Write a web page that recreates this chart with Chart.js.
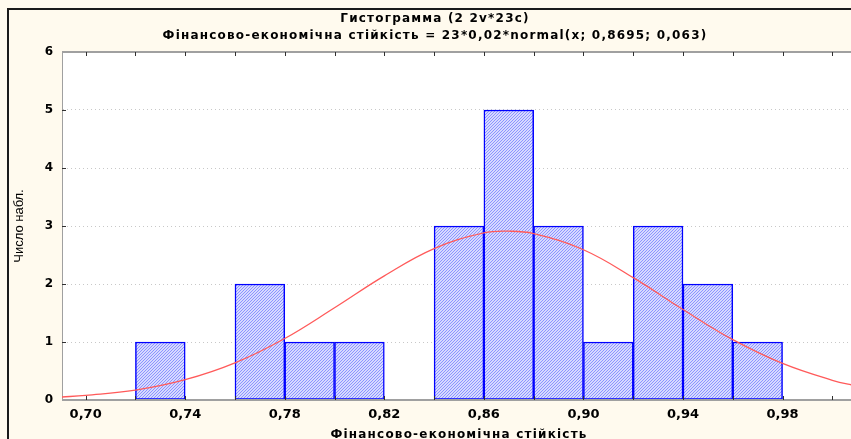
<!DOCTYPE html>
<html>
<head>
<meta charset="utf-8">
<script src="https://cdn.jsdelivr.net/npm/chart.js@4.4.1/dist/chart.umd.min.js"></script>
<style>
    html, body { margin: 0; padding: 0; background: #fffaee; }
    #wrap { width: 851px; height: 439px; position: relative; }
</style>
</head>
<body>
<div id="wrap"><canvas id="histChart" width="851" height="439"></canvas></div>
<script>
// ===============================
//  DATA
// ===============================
const binCenters = [0.73, 0.75, 0.77, 0.79, 0.81, 0.83, 0.85, 0.87, 0.89, 0.91, 0.93, 0.95, 0.97];
const binCounts  = [1, 0, 2, 1, 1, 0, 3, 5, 3, 1, 3, 2, 1];

// normal curve
const curveX = [0.69, 0.70, 0.72, 0.74, 0.76, 0.78, 0.80, 0.82, 0.84, 0.86, 0.87, 0.88, 0.90, 0.92, 0.94, 0.96, 0.98, 1.00, 1.01];
const curveY = [0.05, 0.08, 0.17, 0.35, 0.64, 1.06, 1.59, 2.14, 2.61, 2.88, 2.91, 2.87, 2.59, 2.11, 1.56, 1.04, 0.63, 0.34, 0.24];

const xTickLabels = [0.70, 0.74, 0.78, 0.82, 0.86, 0.90, 0.94, 0.98];
const xTickMarks = [0.70, 0.72, 0.74, 0.76, 0.78, 0.80, 0.82, 0.84, 0.86, 0.88, 0.90, 0.92, 0.94, 0.96, 0.98, 1.00];

const titleText = "Гистограмма (2 2v*23c)";
const subtitleText = "Фінансово-економічна стійкість = 23*0,02*normal(x; 0,8695; 0,063)";
const xTitle = "Фінансово-економічна стійкість";
const yTitle = "Число набл.";

// ===============================
//  HATCH PATTERN
// ===============================
function makeHatch() {
    const c = document.createElement("canvas");
    c.width = 3;
    c.height = 3;
    const g = c.getContext("2d");
    g.fillStyle = "#d6d9ff";
    g.fillRect(0, 0, 3, 3);
    g.strokeStyle = "#8c93ff";
    g.lineWidth = 1;
    g.beginPath();
    g.moveTo(-1, 4); g.lineTo(4, -1);
    g.moveTo(-1, 1); g.lineTo(1, -1);
    g.moveTo(2, 4); g.lineTo(4, 2);
    g.stroke();
    return g.createPattern(c, "repeat");
}

// ===============================
//  FRAME / TITLES / TICKS PLUGIN
// ===============================
const framePlugin = {
    id: "frame",
    beforeDraw(chart) {
        const ctx = chart.ctx;
        const a = chart.chartArea;
        ctx.save();
        ctx.fillStyle = "#fffaee";
        ctx.fillRect(0, 0, chart.width, chart.height);
        ctx.fillStyle = "#ffffff";
        ctx.fillRect(a.left, a.top, a.right - a.left, a.bottom - a.top);
        // outer frame
        ctx.strokeStyle = "#1a1a1a";
        ctx.lineWidth = 2;
        ctx.beginPath();
        ctx.moveTo(8, chart.height);
        ctx.lineTo(8, 9);
        ctx.lineTo(chart.width, 9);
        ctx.stroke();
        // titles
        ctx.fillStyle = "#000";
        ctx.textAlign = "center";
        ctx.textBaseline = "middle";
        ctx.font = "bold 12px 'DejaVu Sans'";
        ctx.letterSpacing = "1.2px";
        ctx.fillText(titleText, 435, 19);
        ctx.fillText(subtitleText, 435, 36);
        ctx.fillText(xTitle, 459, 435);
        ctx.restore();
    },
    afterDatasetsDraw(chart) {
        const ctx = chart.ctx;
        const a = chart.chartArea;
        const x = chart.scales.x;
        const y = chart.scales.y;
        ctx.save();
        // top and bottom borders
        ctx.strokeStyle = "#a0a0a0";
        ctx.lineWidth = 2;
        ctx.beginPath();
        ctx.moveTo(a.left, a.top);
        ctx.lineTo(a.right, a.top);
        ctx.moveTo(a.left, a.bottom);
        ctx.lineTo(a.right, a.bottom);
        ctx.stroke();
        // inward tick marks
        ctx.strokeStyle = "#303030";
        ctx.lineWidth = 1;
        ctx.beginPath();
        xTickMarks.forEach(v => {
            const px = Math.round(x.getPixelForValue(v)) + 0.5;
            ctx.moveTo(px, a.top);
            ctx.lineTo(px, a.top + 4);
            ctx.moveTo(px, a.bottom);
            ctx.lineTo(px, a.bottom - 4);
        });
        for (let v = 1; v <= 5; v++) {
            const py = Math.round(y.getPixelForValue(v)) + 0.5;
            ctx.moveTo(a.left, py);
            ctx.lineTo(a.left + 4, py);
        }
        ctx.stroke();
        ctx.restore();
    }
};

// ===============================
//  CHART
// ===============================
let histChart;

function initChart() {
    const ctx = document.getElementById("histChart");
    histChart = new Chart(ctx, {
        type: 'bar',
        data: {
            datasets: [
                {
                    type: 'line',
                    label: 'normal',
                    data: curveX.map((v, i) => ({ x: v, y: curveY[i] })),
                    borderColor: '#ff5a5a',
                    borderWidth: 1.3,
                    pointRadius: 0,
                    tension: 0.4,
                    fill: false,
                    order: 0
                },
                {
                    type: 'bar',
                    label: 'counts',
                    data: binCenters.map((v, i) => ({ x: v, y: binCounts[i] })),
                    backgroundColor: makeHatch(),
                    borderColor: '#0000ff',
                    borderWidth: 1.5,
                    borderSkipped: false,
                    barPercentage: 1,
                    categoryPercentage: 1,
                    order: 1
                }
            ]
        },
        options: {
            responsive: false,
            animation: false,
            events: [],
            layout: { padding: { left: 9, right: 0, top: 52, bottom: 0 } },
            plugins: {
                legend: { display: false },
                tooltip: { enabled: false }
            },
            scales: {
                x: {
                    type: 'linear',
                    min: 0.6905,
                    max: 1.0075,
                    offset: false,
                    grid: { display: false, drawTicks: false, offset: false },
                    border: { display: false },
                    afterBuildTicks: (s) => { s.ticks = xTickLabels.map(v => ({ value: v })); },
                    afterFit: (s) => { s.height = 39; },
                    ticks: {
                        padding: 7,
                        color: '#000',
                        font: { family: 'DejaVu Sans', size: 13, weight: 'bold' },
                        callback: (v) => Number(v).toFixed(2).replace('.', ','),
                        maxRotation: 0,
                        autoSkip: false
                    }
                },
                y: {
                    min: 0,
                    max: 6,
                    afterFit: (s) => { s.width = 53; },
                    ticks: {
                        stepSize: 1,
                        padding: 9,
                        color: '#000',
                        font: { family: 'DejaVu Sans', size: 12, weight: 'bold' }
                    },
                    grid: {
                        drawTicks: false,
                        color: (c) => (c.tick && c.tick.value > 0 && c.tick.value < 6) ? '#c8c8c8' : 'rgba(0,0,0,0)',
                        lineWidth: 1
                    },
                    border: { display: true, color: '#a0a0a0', width: 1, dash: [1, 3] },
                    title: {
                        display: true,
                        text: yTitle,
                        color: '#000',
                        font: { family: 'Liberation Sans', size: 13 },
                        padding: { top: 3, bottom: 0 }
                    }
                }
            }
        },
        plugins: [framePlugin]
    });
}

document.addEventListener("DOMContentLoaded", () => {
    initChart();
});
</script>
</body>
</html>
